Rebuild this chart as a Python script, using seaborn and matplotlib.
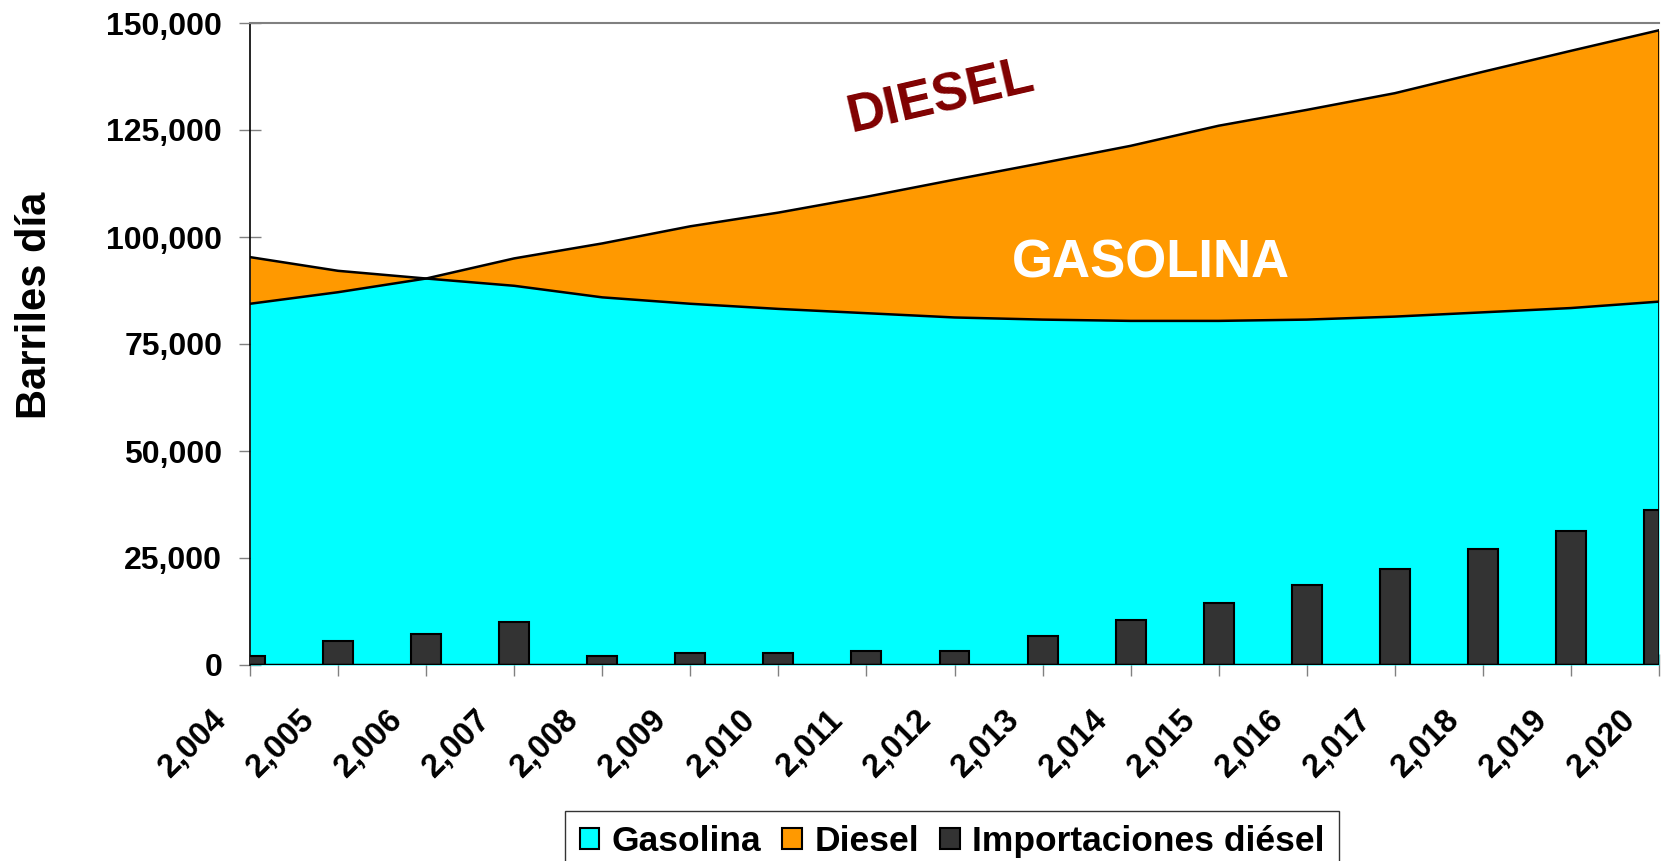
import numpy as np
import pandas as pd
import matplotlib
matplotlib.use("Agg")
import matplotlib.pyplot as plt
import matplotlib.transforms as mtransforms
from matplotlib.patches import Patch
from matplotlib.ticker import FuncFormatter, MultipleLocator
import seaborn as sns

# ---- Data ----
years = list(range(2004, 2021))
gasolina = [95300, 92100, 90300, 88600, 85900, 84400, 83200, 82200, 81200,
            80700, 80400, 80400, 80700, 81400, 82400, 83400, 84900]
diesel = [84400, 87100, 90300, 95000, 98500, 102500, 105700, 109400, 113400,
          117300, 121300, 126000, 129700, 133600, 138600, 143500, 148300]
importaciones = [2200, 5700, 7200, 10100, 2200, 2700, 2700, 3200, 3200,
                 6700, 10600, 14600, 18600, 22500, 27000, 31200, 36100]

df = pd.DataFrame({"Año": years, "Gasolina": gasolina, "Diesel": diesel,
                   "Importaciones diésel": importaciones})

# ---- Style ----
sns.set_theme(style="white")
plt.rcParams["font.family"] = ["Liberation Sans", "DejaVu Sans"]
plt.rcParams["font.weight"] = "bold"
plt.rcParams["text.color"] = "black"
plt.rcParams["axes.labelcolor"] = "black"
plt.rcParams["xtick.labelcolor"] = "black"
plt.rcParams["ytick.labelcolor"] = "black"

cyan = "#00FFFF"
orange = "#FF9900"
dark = "#333333"

fig = plt.figure(figsize=(16.61, 8.61), dpi=100)
ax = fig.add_axes([250 / 1661, 1 - 665 / 861, 1409 / 1661, 642 / 861])

# ---- Areas: cyan below both lines, orange between them ----
low = np.minimum(df["Gasolina"], df["Diesel"])
high = np.maximum(df["Gasolina"], df["Diesel"])
ax.fill_between(df["Año"], 0, low, color=cyan, lw=0, zorder=1)
ax.fill_between(df["Año"], low, high, color=orange, lw=0, zorder=1)

# ---- Bars: imports ----
sns.barplot(data=df, x="Año", y="Importaciones diésel", native_scale=True,
            width=0.34, color=dark, saturation=1, edgecolor="black",
            linewidth=1.5, ax=ax, zorder=3)

# ---- Lines ----
sns.lineplot(data=df, x="Año", y="Gasolina", color="black", lw=1.8, ax=ax, zorder=4)
sns.lineplot(data=df, x="Año", y="Diesel", color="black", lw=1.8, ax=ax, zorder=4)
ax.plot([years[-1], years[-1]], [0, high.iloc[-1]], color="black", lw=2, zorder=4)
ax.axhline(0, color="black", lw=2.5, zorder=5)

ax.set_xlim(years[0], years[-1])
ax.set_ylim(0, 150000)
ax.set_xlabel("")
ax.set_ylabel("")

# ---- Spines & ticks ----
ax.spines["top"].set_color("#808080")
ax.spines["top"].set_linewidth(1.5)
ax.spines["right"].set_visible(False)
ax.spines["left"].set_color("black")
ax.spines["left"].set_linewidth(1.2)
ax.spines["bottom"].set_visible(False)

ax.xaxis.set_major_locator(MultipleLocator(1))
ax.yaxis.set_major_locator(MultipleLocator(25000))
fmt = FuncFormatter(lambda v, p: f"{v:,.0f}")
ax.xaxis.set_major_formatter(fmt)
ax.yaxis.set_major_formatter(fmt)

ax.tick_params(axis="both", direction="inout", length=16, width=1,
               color="#808080", labelcolor="black", bottom=True, left=True)
ax.tick_params(axis="y", pad=12, labelsize=23)
ax.tick_params(axis="x", pad=28, labelsize=23.5)
offset = mtransforms.ScaledTranslation(-28 / 100, 0, fig.dpi_scale_trans)
for lab in ax.get_xticklabels():
    lab.set_rotation(45)
    lab.set_ha("right")
    lab.set_va("center")
    lab.set_rotation_mode("anchor")
    lab.set_transform(lab.get_transform() + offset)
for lab in ax.get_xticklabels() + ax.get_yticklabels():
    lab.set_fontweight("bold")

fig.text(35 / 1661, 1 - 305 / 861, "Barriles día", rotation=90, ha="center",
         va="center", fontsize=30, fontweight="bold", color="black")

# ---- Annotations ----
ax.text(2011.85, 132700, "DIESEL", color="#800000", fontsize=38,
        fontweight="bold", rotation=13, ha="center", va="center")
ax.text(2014.23, 93900, "GASOLINA", color="white", fontsize=38,
        fontweight="bold", ha="center", va="center")

# ---- Legend ----
handles = [Patch(facecolor=cyan, edgecolor="black", lw=1.5),
           Patch(facecolor=orange, edgecolor="black", lw=1.5),
           Patch(facecolor=dark, edgecolor="black", lw=1.5)]
leg = fig.legend(handles, ["Gasolina", "Diesel", "Importaciones diésel"],
                 loc="upper center", bbox_to_anchor=(952 / 1661, 1 - 811 / 861),
                 ncol=3, frameon=True, fancybox=False, fontsize=25.5,
                 handlelength=0.55, handleheight=0.55, handletextpad=0.35,
                 columnspacing=0.6, borderpad=0.4, borderaxespad=0)
leg.get_frame().set_edgecolor("black")
leg.get_frame().set_linewidth(1)
for t in leg.get_texts():
    t.set_fontweight("bold")
    t.set_color("black")

fig.savefig("out.png", dpi=100)
